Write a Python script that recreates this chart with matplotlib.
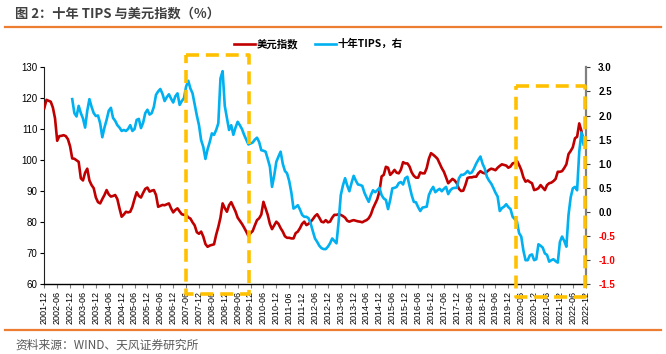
import matplotlib
matplotlib.use("Agg")
import matplotlib.pyplot as plt
from matplotlib.lines import Line2D
import numpy as np

plt.rcParams['font.family'] = ['Liberation Sans', 'Noto Sans CJK SC', 'DejaVu Sans']

# ---------------- data ----------------
start_year, start_month = 2001, 12  # month index 0 = 2001-12

# 美元指数 (left axis), monthly from 2001-12
dxy = [
    116.8,
    119.5, 119.2, 118.9, 117.0, 113.5, 106.3, 107.8, 107.9, 108.1, 107.8, 106.8, 104.5,
    100.6, 100.5, 100.0, 99.5, 94.2, 93.5, 96.0, 97.3, 93.5, 92.0, 91.0, 88.0,
    86.5, 86.1, 87.5, 88.8, 90.4, 89.0, 88.3, 88.5, 88.8, 87.5, 84.5, 81.8,
    82.5, 83.4, 83.2, 83.4, 85.0, 87.5, 89.7, 88.5, 88.0, 89.5, 90.8, 91.2,
    89.9, 90.2, 90.4, 88.8, 85.0, 85.3, 85.6, 85.5, 85.8, 86.1, 84.5, 83.2,
    84.0, 84.5, 83.5, 82.6, 82.4, 82.4, 81.6, 81.2, 80.0, 79.0, 76.8, 76.3,
    77.0, 75.4, 73.0, 72.1, 72.5, 72.7, 72.9, 76.0, 78.5, 81.5, 86.1, 84.6,
    83.4, 85.5, 86.5, 85.0, 83.5, 81.5, 80.5, 79.5, 78.3, 77.0, 75.6, 76.5,
    77.2, 79.0, 80.7, 81.3, 82.5, 86.6, 84.5, 82.4, 79.5, 77.8, 79.0, 80.2,
    79.5, 78.1, 77.0, 75.5, 75.0, 75.0, 74.8, 74.8, 76.5, 77.0, 78.1, 79.5,
    80.2, 79.1, 79.5, 80.2, 81.0, 82.0, 82.6, 81.5, 80.2, 80.0, 80.7, 80.0,
    80.2, 81.5, 82.4, 82.4, 82.6, 82.4, 82.0, 81.5, 80.5, 80.2, 80.5, 80.7,
    80.5, 80.3, 80.2, 80.0, 80.4, 80.7, 81.3, 82.5, 84.5, 86.0, 87.5, 90.0,
    94.8, 95.3, 97.9, 97.6, 95.3, 96.0, 96.9, 96.0, 95.8, 97.0, 99.4, 99.0,
    99.0, 98.0, 96.1, 95.0, 94.4, 94.4, 96.1, 95.8, 95.8, 97.5, 100.5, 102.3,
    101.8, 101.2, 100.5, 99.0, 97.5, 96.3, 94.5, 92.6, 93.3, 94.0, 93.5, 92.6,
    90.8, 90.1, 90.2, 92.0, 94.3, 94.5, 94.5, 94.7, 94.7, 95.8, 96.5, 96.0,
    95.8, 96.3, 96.9, 97.3, 97.1, 96.8, 97.6, 98.2, 98.7, 98.5, 98.3, 97.6,
    98.0, 99.0, 99.2, 99.8, 98.5, 96.9, 94.5, 93.1, 93.5, 93.0, 92.6, 90.4,
    90.6, 91.0, 92.0, 91.2, 90.4, 92.0, 92.6, 92.8, 93.3, 94.0, 96.3, 96.3,
    96.5, 97.5, 98.7, 102.0, 103.0, 104.2, 107.1, 107.6, 111.9, 109.5, 105.8,
]

# 十年TIPS (right axis), monthly from 2003-01 (month index 13)
tips_start = 13
tips = [
    2.34, 2.05, 1.98, 2.20, 2.05, 1.94, 1.75, 2.10, 2.34, 2.18, 2.05, 1.99,
    2.00, 1.84, 1.55, 1.75, 1.91, 2.10, 2.16, 1.95, 1.89, 1.80, 1.75, 1.68,
    1.70, 1.68, 1.72, 1.80, 1.68, 1.72, 1.91, 1.93, 1.74, 1.85, 2.05, 2.12,
    2.02, 2.05, 2.18, 2.43, 2.50, 2.55, 2.45, 2.30, 2.38, 2.44, 2.35, 2.27,
    2.40, 2.46, 2.22, 2.30, 2.36, 2.60, 2.72, 2.56, 2.46, 2.23, 2.00, 1.80,
    1.49, 1.35, 1.10, 1.30, 1.45, 1.63, 1.60, 1.70, 1.84, 2.77, 2.92, 2.20,
    1.95, 1.70, 1.80, 1.60, 1.75, 1.87, 1.80, 1.72, 1.60, 1.50, 1.40, 1.42,
    1.44, 1.50, 1.54, 1.45, 1.28, 1.27, 1.25, 1.10, 0.94, 0.52, 0.75, 1.04,
    1.15, 1.25, 1.00, 0.85, 0.80, 0.64, 0.40, 0.07, 0.10, 0.14, 0.05, -0.06,
    -0.10, -0.10, -0.13, -0.24, -0.40, -0.55, -0.62, -0.70, -0.75, -0.77, -0.77, -0.72,
    -0.65, -0.55, -0.60, -0.65, -0.20, 0.35, 0.55, 0.70, 0.55, 0.43, 0.60, 0.75,
    0.65, 0.57, 0.56, 0.54, 0.40, 0.30, 0.21, 0.35, 0.45, 0.41, 0.45, 0.50,
    0.35, 0.28, 0.25, 0.06, 0.25, 0.49, 0.50, 0.52, 0.60, 0.62, 0.57, 0.70,
    0.73, 0.54, 0.35, 0.21, 0.20, 0.10, 0.02, 0.09, 0.10, 0.11, 0.35, 0.45,
    0.52, 0.41, 0.45, 0.48, 0.43, 0.48, 0.52, 0.37, 0.45, 0.49, 0.50, 0.50,
    0.70, 0.77, 0.77, 0.80, 0.85, 0.80, 0.82, 0.90, 1.00, 1.08, 1.15, 1.00,
    0.90, 0.73, 0.65, 0.59, 0.50, 0.40, 0.32, 0.02, 0.08, 0.11, 0.16, 0.10,
    0.06, -0.10, -0.15, -0.20, -0.44, -0.51, -0.80, -1.00, -1.00, -0.90, -0.88, -1.00,
    -0.98, -0.67, -0.70, -0.74, -0.86, -0.89, -1.03, -1.00, -0.98, -1.02, -1.05, -0.62,
    -0.51, -0.60, -0.72, -0.06, 0.30, 0.49, 0.52, 0.45, 1.25, 1.65, 1.40,
]

n_months = 253  # 2001-12 .. 2022-12
tick_step = 6

def month_label(i):
    y = start_year + (start_month - 1 + i) // 12
    m = (start_month - 1 + i) % 12 + 1
    return f"{y}-{m:02d}"

x_dxy = np.arange(len(dxy))
x_tips = np.arange(tips_start, tips_start + len(tips))
tick_pos = np.arange(0, n_months, tick_step)
tick_labels = [month_label(i) for i in tick_pos]

# ---------------- figure ----------------
W, H = 666, 354
fig = plt.figure(figsize=(W / 100, H / 100), dpi=100)

RED = '#C00000'
BLUE = '#00B0F0'
ORANGE = '#ED7D31'
GOLD = '#FFC000'
cjk = ['Noto Sans CJK SC', 'DejaVu Sans']

# header / footer
fig.text(15 / W, 1 - 14 / H, '图 2：十年 TIPS 与美元指数（%）', family=cjk, fontsize=9.5,
         fontweight='bold', color='#404040', ha='left', va='center')
fig.add_artist(Line2D([5 / W, 661 / W], [1 - 27 / H, 1 - 27 / H], color=ORANGE, lw=1.6))
fig.add_artist(Line2D([5 / W, 661 / W], [1 - 330 / H, 1 - 330 / H], color=ORANGE, lw=1.6))
fig.text(15 / W, 1 - 345 / H, '资料来源：WIND、天风证券研究所', family=cjk, fontsize=8.5,
         color='#595959', ha='left', va='center')

left, right = 44.3 / W, 585.7 / W
bottom, top = 1 - 284.3 / H, 1 - 67.3 / H
ax = fig.add_axes([left, bottom, right - left, top - bottom])
ax2 = ax.twinx()

ax.plot(x_dxy, dxy, color=RED, lw=1.9, solid_joinstyle='round', zorder=3)
ax2.plot(x_tips, tips, color=BLUE, lw=1.9, solid_joinstyle='round', zorder=3)

ax.set_xlim(0, n_months - 1)
ax.set_ylim(60, 130)
ax.set_yticks(np.arange(60, 131, 10))
ax2.set_ylim(-1.5, 3.0)
ax2.set_yticks(np.arange(-1.5, 3.01, 0.5))
ax2.set_yticklabels([f"{v:.1f}" for v in np.arange(-1.5, 3.01, 0.5)])

ax.set_xticks(tick_pos)
ax.set_xticklabels(tick_labels, rotation=90, fontsize=6.5)
ax.tick_params(axis='x', length=3, width=0.8, color='#808080', pad=2)
ax.tick_params(axis='y', length=3, width=0.8, labelsize=7, pad=2)
ax2.tick_params(axis='y', length=3, width=0.8, labelsize=7, pad=6, color='#404040')
for lab in ax2.get_yticklabels():
    lab.set_fontweight('bold')
    if lab.get_text().startswith('-'):
        lab.set_color('#FF0000')

for a in (ax, ax2):
    a.spines['top'].set_visible(False)
    a.set_facecolor('none')
ax.spines['right'].set_visible(False)
ax2.spines['left'].set_visible(False)
ax2.spines['bottom'].set_visible(False)
ax2.spines['right'].set_color('#808080')
ax2.spines['right'].set_linewidth(1.6)
ax.spines['left'].set_color('#202020')
ax.spines['left'].set_linewidth(0.8)
ax.spines['bottom'].set_color('#000000')
ax.spines['bottom'].set_linewidth(1.0)

# dashed highlight boxes (drawn on top)
def box(x0, x1, y0, y1):
    ax2.plot([x0, x1, x1, x0, x0], [y1, y1, y0, y0, y1], transform=ax.transData,
             color=GOLD, lw=2.6, dashes=(3.6, 1.9), clip_on=False, zorder=6,
             solid_capstyle='butt', dash_capstyle='butt')

box(66.0, 95.5, 56.8, 134.0)
box(219.6, 251.6, 55.9, 124.0)

# legend
handles = [Line2D([], [], color=RED, lw=1.9), Line2D([], [], color=BLUE, lw=1.9)]
fig.legend(handles, ['美元指数', '十年TIPS，右'], loc='center', ncol=2,
           bbox_to_anchor=(0.478, 1 - 44 / H), frameon=False, handlelength=2.0,
           handletextpad=0.2, columnspacing=1.6,
           prop={'family': cjk, 'size': 7.5, 'weight': 'bold'})

fig.savefig('out.png', dpi=100)
